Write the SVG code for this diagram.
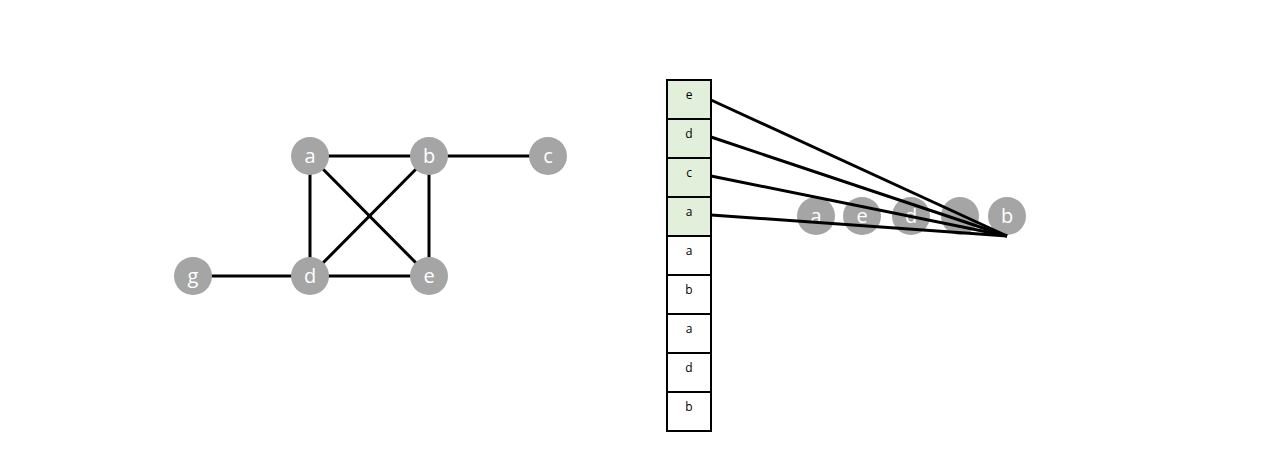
<svg xmlns="http://www.w3.org/2000/svg" width="1280" height="454" viewBox="0 0 1280 454">
<style>
.n{fill:#a5a5a5}
.t{font-family:"Open Sans","Liberation Sans",sans-serif;font-size:20px;fill:#fff;text-anchor:middle}
.e{stroke:#000;stroke-width:3;fill:none}
.c{stroke:#000;stroke-width:2}
.g{fill:#e2efda}
.w{fill:#fff}
.s{font-family:"Open Sans","Liberation Sans",sans-serif;font-size:12px;fill:#000;text-anchor:middle}
</style>
<rect width="1280" height="454" fill="#fff"/>
<g id="connectors">
<line class="e" x1="310" y1="156" x2="429" y2="156"/>
<line class="e" x1="429" y1="156" x2="548" y2="156"/>
<line class="e" x1="310" y1="156" x2="310" y2="276"/>
<line class="e" x1="429" y1="156" x2="429" y2="276"/>
<line class="e" x1="310" y1="156" x2="429" y2="276"/>
<line class="e" x1="429" y1="156" x2="310" y2="276"/>
<line class="e" x1="193" y1="276" x2="310" y2="276"/>
<line class="e" x1="310" y1="276" x2="429" y2="276"/>
</g>
<g id="node-a"><circle class="n" cx="310" cy="156" r="19"/><text class="t" x="310" y="163">a</text></g>
<g id="node-b"><circle class="n" cx="429" cy="156" r="19"/><text class="t" x="429" y="163">b</text></g>
<g id="node-c"><circle class="n" cx="548" cy="156" r="19"/><text class="t" x="548" y="163">c</text></g>
<g id="node-g"><circle class="n" cx="193" cy="276" r="19"/><text class="t" x="193" y="283">g</text></g>
<g id="node-d"><circle class="n" cx="310" cy="276" r="19"/><text class="t" x="310" y="283">d</text></g>
<g id="node-e"><circle class="n" cx="429" cy="276" r="19"/><text class="t" x="429" y="283">e</text></g>
<g id="stack">
<rect class="c g" x="667" y="80" width="44" height="39"/><text class="s" x="689" y="99">e</text>
<rect class="c g" x="667" y="119" width="44" height="39"/><text class="s" x="689" y="138">d</text>
<rect class="c g" x="667" y="158" width="44" height="39"/><text class="s" x="689" y="177">c</text>
<rect class="c g" x="667" y="197" width="44" height="39"/><text class="s" x="689" y="216">a</text>
<rect class="c w" x="667" y="236" width="44" height="39"/><text class="s" x="689" y="255">a</text>
<rect class="c w" x="667" y="275" width="44" height="39"/><text class="s" x="689" y="294">b</text>
<rect class="c w" x="667" y="314" width="44" height="39"/><text class="s" x="689" y="333">a</text>
<rect class="c w" x="667" y="353" width="44" height="39"/><text class="s" x="689" y="372">d</text>
<rect class="c w" x="667" y="392" width="44" height="39"/><text class="s" x="689" y="411">b</text>
</g>
<g id="q-a"><circle class="n" cx="816" cy="216" r="19"/><text class="t" x="816" y="223">a</text></g>
<g id="q-e"><circle class="n" cx="862" cy="216" r="19"/><text class="t" x="862" y="223">e</text></g>
<g id="q-d"><circle class="n" cx="911" cy="216" r="19"/><text class="t" x="911" y="223">d</text></g>
<g id="q-4"><circle class="n" cx="960" cy="216" r="19"/></g>
<g id="q-b"><circle class="n" cx="1007" cy="216" r="19"/><text class="t" x="1007" y="223">b</text></g>
<g id="pointers">
<line class="e" x1="711" y1="100" x2="1007" y2="236"/>
<line class="e" x1="711" y1="137" x2="1007" y2="236"/>
<line class="e" x1="711" y1="176" x2="1007" y2="236"/>
<line class="e" x1="711" y1="215" x2="1007" y2="236"/>
</g>
</svg>
